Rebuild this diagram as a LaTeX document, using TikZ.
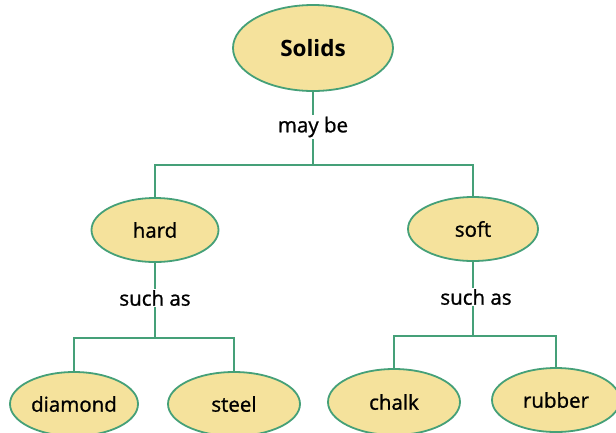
\documentclass[tikz,border=0pt]{standalone}
\usepackage{fontspec}
\usetikzlibrary{shapes.geometric}
\setmainfont{Open Sans}
\definecolor{fillc}{HTML}{F5E29C}
\definecolor{linec}{HTML}{45A078}
\begin{document}
\begin{tikzpicture}[x=1pt,y=-1pt,
  blob/.style={ellipse, draw=linec, fill=fillc, line width=1.8pt, minimum height=64pt, inner sep=0pt,
    font=\fontsize{20.5}{22}\selectfont\addfontfeature{FakeBold=1}},
  conn/.style={draw=linec, line width=1.8pt},
  lbl/.style={fill=white, inner sep=1.5pt, font=\fontsize{20.5}{22}\selectfont\addfontfeature{FakeBold=1}}
]
\useasboundingbox (0,0) rectangle (616,432);
\node[blob, minimum width=160pt, minimum height=86pt, font=\fontsize{22.5}{24}\selectfont\bfseries] (solids) at (313,48) {Solids};
\node[blob, minimum width=127pt] (hard) at (155,230) {hard};
\node[blob, minimum width=130pt] (soft) at (473,229) {soft};
\node[blob, minimum width=128pt] (diamond) at (74,404) {diamond};
\node[blob, minimum width=132pt] (steel) at (234,404) {steel};
\node[blob, minimum width=132pt, minimum height=66pt] (chalk) at (394,402) {chalk};
\node[blob, minimum width=128pt] (rubber) at (556,400) {rubber};
\coordinate (j1) at (313,165);
\coordinate (j2) at (155,338);
\coordinate (j3) at (473,336);
\draw[conn] (solids.south) -- (j1);
\draw[conn] (hard.north) |- (j1) -| (soft.north);
\draw[conn] (hard.south) -- (j2);
\draw[conn] (diamond.north) |- (j2) -| (steel.north);
\draw[conn] (soft.south) -- (j3);
\draw[conn] (chalk.north) |- (j3) -| (rubber.north);
\node[lbl] (maybe) at (313,127) {may be};
\node[lbl] (such1) at (155,298) {such as};
\node[lbl] (such2) at (476,297) {such as};
\end{tikzpicture}
\end{document}
